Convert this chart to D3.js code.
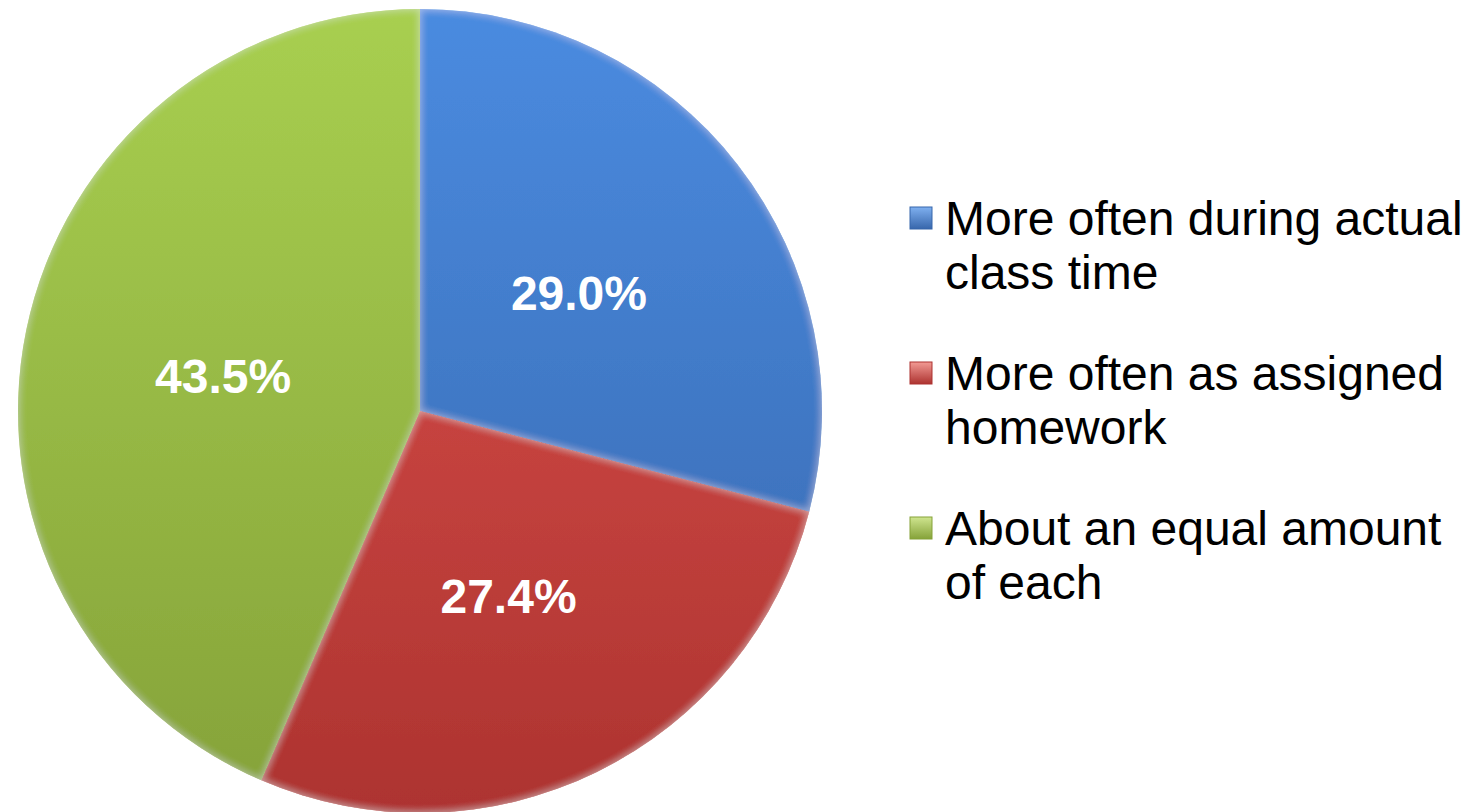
<!DOCTYPE html>
<html>
<head>
<meta charset="utf-8">
<script src="https://cdn.jsdelivr.net/npm/d3@7"></script>
<style>
  body { margin: 0; background: #fff; }
  svg { display: block; }
</style>
</head>
<body>
<div id="chart"></div>
<script>
var categories = ["More often during actual class time", "More often as assigned homework", "About an equal amount of each"];
var legendLines = [["More often during actual", "class time"], ["More often as assigned", "homework"], ["About an equal amount", "of each"]];
var values = [29.0, 27.4, 43.5];
var labels = ["29.0%", "27.4%", "43.5%"];
var colors = [
  { top: "#4a8be0", bottom: "#3766ab", edge: "#7fb0f0" },
  { top: "#e0544f", bottom: "#ad3330", edge: "#f29a94" },
  { top: "#a8cf50", bottom: "#85a239", edge: "#cfe58f" }
];

var width = 1480, height = 812;
var cx = 420, cy = 411, radius = 402;

var svg = d3.select("#chart").append("svg")
    .attr("width", width)
    .attr("height", height);

var defs = svg.append("defs");
colors.forEach(function(c, i) {
  var g = defs.append("linearGradient")
      .attr("id", "grad" + i)
      .attr("gradientUnits", "userSpaceOnUse")
      .attr("x1", 0).attr("y1", -radius)
      .attr("x2", 0).attr("y2", radius);
  g.append("stop").attr("offset", "0%").attr("stop-color", c.top);
  g.append("stop").attr("offset", "100%").attr("stop-color", c.bottom);

  var sq = defs.append("linearGradient")
      .attr("id", "sq" + i)
      .attr("x1", 0).attr("y1", 0).attr("x2", 0).attr("y2", 1);
  sq.append("stop").attr("offset", "0%").attr("stop-color", c.edge);
  sq.append("stop").attr("offset", "100%").attr("stop-color", c.bottom);
});

// soft inner bevel
var f = defs.append("filter").attr("id", "bevel").attr("x", "-5%").attr("y", "-5%").attr("width", "110%").attr("height", "110%");
f.append("feGaussianBlur").attr("in", "SourceAlpha").attr("stdDeviation", 4).attr("result", "blur");
f.append("feComposite").attr("in", "SourceAlpha").attr("in2", "blur").attr("operator", "arithmetic")
  .attr("k2", 1).attr("k3", -1).attr("result", "rim");
f.append("feFlood").attr("flood-color", "#ffffff").attr("flood-opacity", 0.35);
f.append("feComposite").attr("in2", "rim").attr("operator", "in").attr("result", "rimLight");
f.append("feMerge").selectAll("feMergeNode")
  .data(["SourceGraphic", "rimLight"]).enter()
  .append("feMergeNode").attr("in", function(d) { return d; });

var pie = d3.pie().sort(null).value(function(d) { return d; });
var arc = d3.arc().innerRadius(0).outerRadius(radius);
var labelArc = d3.arc().innerRadius(radius * 0.5).outerRadius(radius * 0.5);

var g = svg.append("g").attr("transform", "translate(" + cx + "," + cy + ")");

var slices = pie(values);

g.selectAll("path.slice")
  .data(slices)
  .enter().append("path")
  .attr("class", "slice")
  .attr("d", arc)
  .attr("fill", function(d, i) { return "url(#grad" + i + ")"; })
  .attr("filter", "url(#bevel)");

g.selectAll("text.label")
  .data(slices)
  .enter().append("text")
  .attr("class", "label")
  .attr("x", function(d) { return labelArc.centroid(d)[0]; })
  .attr("y", function(d) { return labelArc.centroid(d)[1] + 22; })
  .attr("text-anchor", "middle")
  .attr("font-family", "Liberation Sans, Arial, sans-serif")
  .attr("font-weight", "bold")
  .attr("font-size", 48)
  .attr("fill", "#ffffff")
  .text(function(d, i) { return labels[i]; });

// legend
var legend = svg.append("g").attr("transform", "translate(910,0)");
var itemY = d3.scalePoint().domain(categories).range([207, 517]);

var items = legend.selectAll("g.item")
  .data(categories)
  .enter().append("g")
  .attr("class", "item")
  .attr("transform", function(d) { return "translate(0," + itemY(d) + ")"; });

items.append("rect")
  .attr("width", 22).attr("height", 22)
  .attr("fill", function(d, i) { return "url(#sq" + i + ")"; })
  .attr("stroke", function(d, i) { return colors[i].bottom; })
  .attr("stroke-width", 1);

items.append("text")
  .attr("x", 35)
  .attr("y", 28)
  .attr("font-family", "Liberation Sans, Arial, sans-serif")
  .attr("font-size", 48)
  .attr("fill", "#000")
  .selectAll("tspan")
  .data(function(d, i) { return legendLines[i]; })
  .enter().append("tspan")
  .attr("x", 35)
  .attr("dy", function(d, j) { return j === 0 ? 0 : 54; })
  .text(function(d) { return d; });
</script>
</body>
</html>
